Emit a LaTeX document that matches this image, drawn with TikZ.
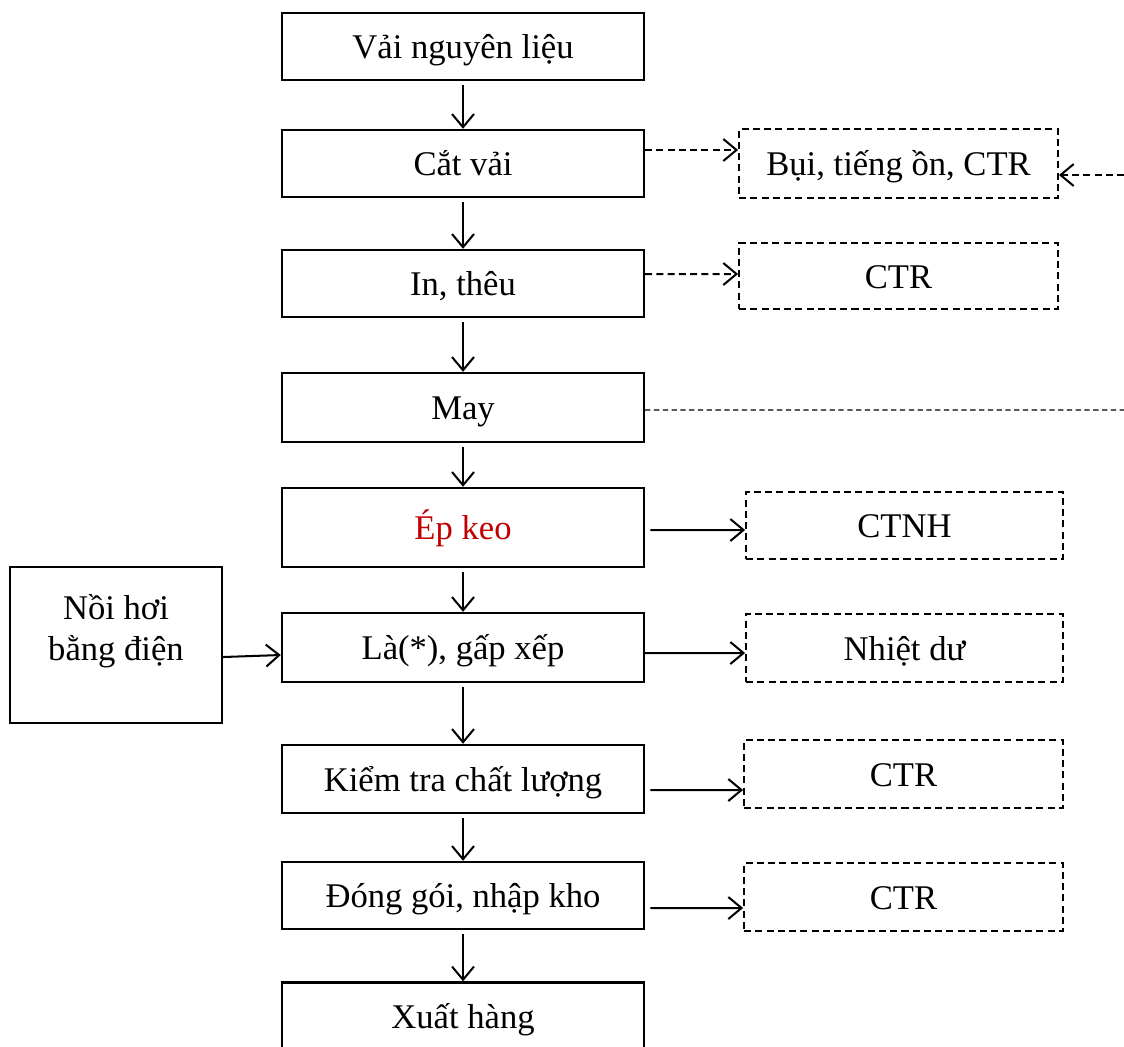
\documentclass[tikz,border=0pt]{standalone}
\usepackage{fontspec}
\setmainfont{Liberation Serif}
\usetikzlibrary{positioning,arrows.meta,calc}
\definecolor{epred}{RGB}{192,0,0}

\begin{document}
\begin{tikzpicture}[
    x=0.02cm, y=-0.02cm,
    proc/.style={
        rectangle, draw, line width=1.4pt, minimum width=7.24cm, minimum height=1.34cm, inner sep=1mm,
        text height=18.7pt, text depth=5pt
    },
    waste/.style={
        rectangle, draw, dash pattern=on 4pt off 2.4pt, line width=1.1pt, minimum width=6.38cm, minimum height=1.36cm, inner sep=1mm,
        text height=18.7pt, text depth=5pt
    },
    arr/.style={-{Straight Barb[length=7.5pt,width=12.5pt]}, line width=1.15pt},
    dasharr/.style={arr, dash pattern=on 4pt off 2.4pt},
    font=\fontsize{19.7pt}{23pt}\selectfont
]
\useasboundingbox (0,0) rectangle (1124,1046);

% Main process column
\node[proc] (vai) at (463,46.5) {Vải nguyên liệu};
\node[proc] (cat) at (463,163.5) {Cắt vải};
\node[proc] (inthe) at (463,283.5) {In, thêu};
\node[proc, minimum height=1.38cm] (may) at (463,407.5) {May};
\node[proc, minimum height=1.58cm, text=epred] (epkeo) at (463,527.5) {Ép keo};
\node[proc, minimum height=1.38cm] (la) at (463,647.5) {Là(*), gấp xếp};
\node[proc, minimum height=1.36cm] (ktra) at (463,779) {Kiểm tra chất lượng};
\node[proc] (donggoi) at (463,895.5) {Đóng gói, nhập kho};
\node[proc] (xuat) at (463,1016) {Xuất hàng};

% Waste boxes
\node[waste, minimum height=1.38cm] (bui) at (898.5,163.5) {Bụi, tiếng ồn, CTR};
\node[waste, minimum height=1.32cm] (ctra) at (898.5,276) {CTR};
\node[waste, minimum width=6.34cm, minimum height=1.34cm] (ctnh) at (904.5,525.5) {CTNH};
\node[waste, minimum width=6.34cm] (nhiet) at (904.5,648) {Nhiệt dư};
\node[waste] (ctrb) at (903.5,774) {CTR};
\node[waste] (ctrc) at (903.5,897) {CTR};

% Boiler
\node[rectangle, draw, line width=1.4pt, minimum width=4.24cm, minimum height=3.12cm] (noi) at (116,645) {};
\node[align=center] (noitxt) at (116,631) {Nồi hơi\\bằng điện};

% Free ends on the right edge
\coordinate (edgein) at (1124,175);
\coordinate (edgemay) at (1124,410);

% Downward flow
\foreach \from/\to in {vai/cat, cat/inthe, inthe/may, may/epkeo, epkeo/la, la/ktra, ktra/donggoi, donggoi/xuat}
{
    \draw[arr, shorten <=2pt] (\from) -- (\to);
}

% Side outputs
\draw[dasharr] ([yshift=0.27cm]cat.east) -- ([yshift=0.27cm]bui.west);
\draw[dasharr] ([yshift=0.19cm]inthe.east) -- ([yshift=0.04cm]ctra.west);
\draw[dasharr] (edgein) -- (edgein -| bui.east);
\draw[densely dashed, line width=0.6pt] ([yshift=-0.05cm]may.east) -- (edgemay);
\draw[arr, shorten <=3pt] ([yshift=-0.05cm]epkeo.east) -- ([yshift=-0.09cm]ctnh.west);
\draw[arr] ([yshift=-0.11cm]la.east) -- ([yshift=-0.1cm]nhiet.west);
\draw[arr, shorten <=3pt] ([yshift=-0.22cm]ktra.east) -- ([yshift=-0.32cm]ctrb.west);
\draw[arr, shorten <=3pt] ([yshift=-0.25cm]donggoi.east) -- ([yshift=-0.22cm]ctrc.west);

% Boiler feed
\draw[arr] ([yshift=-0.24cm]noi.east) -- ([yshift=-0.15cm]la.west);

\end{tikzpicture}
\end{document}
